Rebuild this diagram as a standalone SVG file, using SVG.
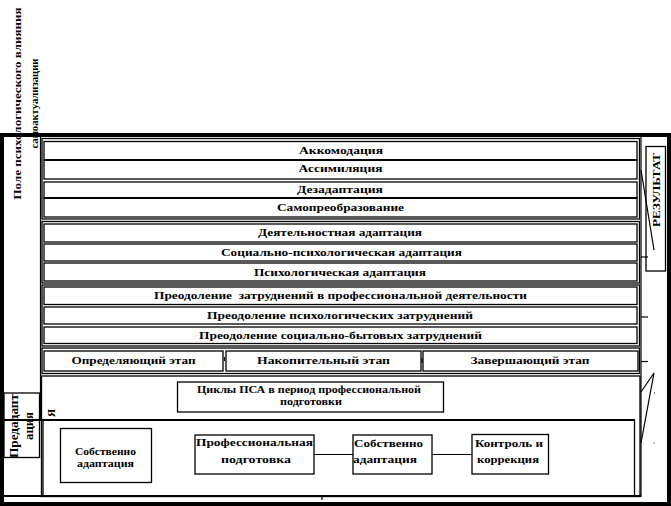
<svg xmlns="http://www.w3.org/2000/svg" width="671" height="506" viewBox="0 0 671 506">
<style>
.bx{fill:#fff;stroke:#000;stroke-width:1.3}
.gb{fill:none;stroke:#000;stroke-width:1.3}
.ln{stroke:#000;stroke-width:1.2;fill:none}
.thk{stroke:#000;stroke-width:2;fill:none}
.t{font-family:"Liberation Serif","Times New Roman",serif;font-weight:bold;font-size:11px;fill:#000;text-anchor:middle}
.l{text-anchor:start}
.r{font-size:13px}
.blk{fill:#000}
</style>
<rect width="671" height="506" fill="#fff"/>
<g id="frame">
<rect class="blk" x="0" y="133" width="671" height="4"/>
<rect class="blk" x="0" y="133" width="4" height="373"/>
<rect class="blk" x="667" y="133" width="4" height="373"/>
<rect class="blk" x="0" y="502" width="671" height="4"/>
<line class="ln" x1="40.5" y1="137" x2="40.5" y2="420"/>
<line class="ln" x1="641" y1="137" x2="641" y2="497"/>
</g>
<g id="field-label">
<text class="t" font-size="12.5" transform="translate(20.5,103.5) rotate(-90)" textLength="192" lengthAdjust="spacingAndGlyphs">Поле психологического влияния</text>
<text class="t" font-size="12.5" transform="translate(37.5,103.5) rotate(-90)" textLength="90" lengthAdjust="spacingAndGlyphs">самоактуализации</text>
</g>
<g id="group-1">
<rect class="gb" x="42" y="138.5" width="597.5" height="80.5"/>
<g id="accommodation"><rect class="bx" x="44" y="141.5" width="593" height="18.5"/><text class="t" x="341" y="153.5" textLength="84" lengthAdjust="spacingAndGlyphs">Аккомодация</text></g>
<g id="assimilation"><rect class="bx" x="44" y="160" width="593" height="19"/><text class="t" x="340.5" y="171.5" textLength="84" lengthAdjust="spacingAndGlyphs">Ассимиляция</text></g>
<g id="disadaptation"><rect class="bx" x="44" y="182" width="593" height="16"/><text class="t" x="340" y="192.5" textLength="86" lengthAdjust="spacingAndGlyphs">Дезадаптация</text></g>
<g id="self-transformation"><rect class="bx" x="44" y="198" width="593" height="19"/><text class="t" x="340.5" y="210.5" textLength="127" lengthAdjust="spacingAndGlyphs">Самопреобразование</text></g>
<line class="thk" x1="44" y1="160" x2="637" y2="160"/>
<line class="thk" x1="44" y1="198" x2="637" y2="198"/>
</g>
<g id="group-2">
<rect class="gb" x="42" y="221.5" width="597.5" height="61.5"/>
<g id="activity-adaptation"><rect class="bx" x="44" y="224" width="593" height="18"/><text class="t" x="340" y="235.5" textLength="164" lengthAdjust="spacingAndGlyphs">Деятельностная адаптация</text></g>
<g id="socio-psych-adaptation"><rect class="bx" x="44" y="244" width="593" height="17"/><text class="t" x="341.5" y="255.5" textLength="241" lengthAdjust="spacingAndGlyphs">Социально-психологическая адаптация</text></g>
<g id="psych-adaptation"><rect class="bx" x="44" y="263" width="593" height="18"/><text class="t" x="340" y="275.5" textLength="172" lengthAdjust="spacingAndGlyphs">Психологическая адаптация</text></g>
</g>
<g id="group-3">
<rect class="gb" x="42" y="285" width="597.5" height="61"/>
<g id="overcoming-professional"><rect class="bx" x="44" y="287" width="593" height="17.5"/><text class="t" x="340.5" y="298.5" style="white-space:pre" textLength="373" lengthAdjust="spacingAndGlyphs">Преодоление  затруднений в профессиональной деятельности</text></g>
<g id="overcoming-psych"><rect class="bx" x="44" y="307" width="593" height="17"/><text class="t" x="340" y="318.5" textLength="266" lengthAdjust="spacingAndGlyphs">Преодоление психологических затруднений</text></g>
<g id="overcoming-social"><rect class="bx" x="44" y="327" width="593" height="16.5"/><text class="t" x="340.5" y="338.5" textLength="283" lengthAdjust="spacingAndGlyphs">Преодоление социально-бытовых затруднений</text></g>
</g>
<g id="group-4">
<rect class="gb" x="42" y="348" width="597.5" height="25.5"/>
<g id="stage-defining"><rect class="bx" x="44" y="351" width="179" height="20"/><text class="t" x="133.5" y="363.5" textLength="124" lengthAdjust="spacingAndGlyphs">Определяющий этап</text></g>
<g id="stage-accumulating"><rect class="bx" x="226" y="351" width="195" height="20"/><text class="t" x="323.5" y="363.5" textLength="133" lengthAdjust="spacingAndGlyphs">Накопительный этап</text></g>
<g id="stage-final"><rect class="bx" x="423" y="351" width="215" height="20"/><text class="t" x="530" y="363.5" textLength="119" lengthAdjust="spacingAndGlyphs">Завершающий этап</text></g>
</g>
<g id="group-5">
<rect class="gb" x="41.5" y="376" width="598.5" height="120.5"/>
<rect class="bx" x="43" y="420" width="591.5" height="76"/>
<line class="thk" x1="4" y1="420" x2="635" y2="420"/>
<line class="thk" x1="4" y1="496" x2="641" y2="496"/>
</g>
<g id="psa-cycles">
<rect class="bx" x="177.5" y="382" width="266" height="30"/>
<text class="t" x="309" y="392.5" textLength="224" lengthAdjust="spacingAndGlyphs">Циклы ПСА в период профессиональной</text>
<text class="t" x="311" y="405" textLength="62" lengthAdjust="spacingAndGlyphs">подготовки</text>
</g>
<g id="ya-label">
<text class="t" transform="translate(55,413) rotate(-90)" font-size="12" textLength="8" lengthAdjust="spacingAndGlyphs">Я</text>
</g>
<g id="preadaptation">
<rect class="gb" x="4" y="393" width="35.5" height="64.5"/>
<text class="t r" transform="translate(17.5,426) rotate(-90)" textLength="64" lengthAdjust="spacingAndGlyphs">Предадапт</text>
<text class="t r" transform="translate(33,426) rotate(-90)" textLength="28" lengthAdjust="spacingAndGlyphs">ация</text>
</g>
<g id="self-adaptation-1">
<rect class="bx" x="60.5" y="428.5" width="91" height="54"/>
<text class="t" x="105.5" y="455" textLength="61" lengthAdjust="spacingAndGlyphs">Собственно</text>
<text class="t" x="105.5" y="467" textLength="57" lengthAdjust="spacingAndGlyphs">адаптация</text>
</g>
<g id="professional-training">
<rect class="bx" x="195" y="435" width="119" height="39"/>
<text class="t" x="254.5" y="446" font-size="12" textLength="117" lengthAdjust="spacingAndGlyphs">Профессиональная</text>
<text class="t" x="256" y="463" font-size="12" textLength="70" lengthAdjust="spacingAndGlyphs">подготовка</text>
</g>
<g id="self-adaptation-2">
<rect class="bx" x="353" y="435" width="79" height="39"/>
<text class="t l" x="354" y="446.5" font-size="12" textLength="69" lengthAdjust="spacingAndGlyphs">Собственно</text>
<text class="t l" x="353" y="463" font-size="12" textLength="64" lengthAdjust="spacingAndGlyphs">адаптация</text>
</g>
<g id="control-correction">
<rect class="bx" x="472" y="434.5" width="76.5" height="39.5"/>
<text class="t" x="509" y="446.5" font-size="12" textLength="68" lengthAdjust="spacingAndGlyphs">Контроль и</text>
<text class="t" x="508" y="462.5" font-size="12" textLength="62" lengthAdjust="spacingAndGlyphs">коррекция</text>
</g>
<g id="result">
<rect class="bx" x="646" y="146.5" width="19.5" height="124.5"/>
<text class="t" transform="translate(660,190) rotate(-90)" font-size="14" textLength="74" lengthAdjust="spacingAndGlyphs">РЕЗУЛЬТАТ</text>
</g>
<g id="connectors">
<line class="ln" x1="314" y1="454.5" x2="353" y2="454.5"/>
<line class="ln" x1="432" y1="454.5" x2="472" y2="454.5"/>
<line class="ln" x1="641" y1="170" x2="654" y2="250"/>
<line class="ln" x1="641" y1="257" x2="648" y2="257"/>
<line class="ln" x1="641" y1="317" x2="648" y2="317"/>
<line class="ln" x1="641" y1="361.5" x2="648" y2="361.5"/>
<polyline class="ln" points="641,392 654,373 641,443"/>
<rect class="blk" x="654" y="392.5" width="1" height="1"/>
<rect class="blk" x="653.5" y="442.5" width="1" height="1"/>
<line class="ln" x1="224.5" y1="357" x2="224.5" y2="361"/>
<line class="ln" x1="422" y1="358" x2="422" y2="363"/>
<line class="ln" x1="322" y1="496" x2="322" y2="500"/>
</g>
</svg>
